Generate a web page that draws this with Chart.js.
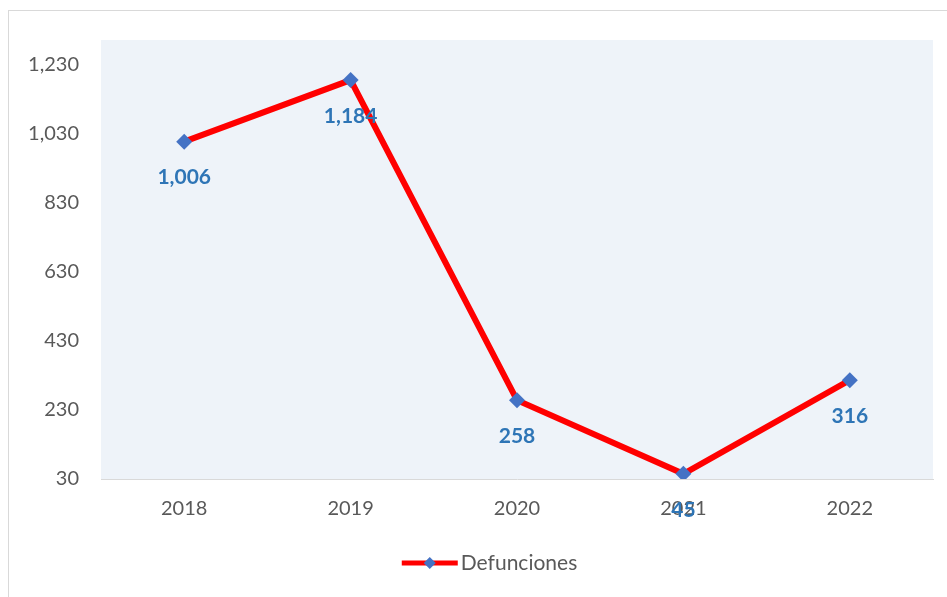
<!DOCTYPE html>
<html>
<head>
<meta charset="utf-8">
<script src="https://cdn.jsdelivr.net/npm/chart.js@4.4.0/dist/chart.umd.min.js"></script>
<style>
  html, body { margin:0; padding:0; background:#fff; }
  #wrap { position:absolute; left:0; top:0; width:947px; height:597px; }
  #frame { position:absolute; left:8px; top:10px; width:960px; height:620px; border:1px solid #d9d9d9; }
</style>
</head>
<body>
<div id="wrap">
  <div id="frame"></div>
  <canvas id="myChart" width="947" height="597"></canvas>
</div>
<script>
// data
var years = ["2018", "2019", "2020", "2021", "2022"];
var defunciones = [1006, 1184, 258, 45, 316];
var yTicks = [30, 230, 430, 630, 830, 1030, 1230];
var seriesName = "Defunciones";

// plot background
var plotBg = {
  id: 'plotBg',
  beforeDraw: function(chart) {
    var a = chart.chartArea, c = chart.ctx;
    c.save();
    c.fillStyle = '#eef3f9';
    c.fillRect(a.left, a.top, a.right - a.left, a.bottom - a.top);
    c.restore();
  }
};

// value labels under the points
var valueLabels = {
  id: 'valueLabels',
  afterDatasetsDraw: function(chart) {
    var c = chart.ctx;
    var meta = chart.getDatasetMeta(0);
    c.save();
    c.font = 'bold 21px Lato';
    c.fillStyle = '#2e75b6';
    c.textAlign = 'center';
    c.textBaseline = 'middle';
    meta.data.forEach(function(pt, i) {
      c.fillText(defunciones[i].toLocaleString('en-US'), pt.x, pt.y + 36);
    });
    c.restore();
  }
};

// legend at the bottom: red line with blue diamond + name
var bottomLegend = {
  id: 'bottomLegend',
  afterDraw: function(chart) {
    var c = chart.ctx;
    var y = chart.chartArea.bottom + 84;
    c.save();
    c.font = '21px Lato';
    var tw = c.measureText(seriesName).width;
    var total = 56 + 3 + tw;
    var x0 = chart.width / 2 + 16 - total / 2;
    c.strokeStyle = '#ff0000'; c.lineWidth = 5;
    c.beginPath(); c.moveTo(x0, y); c.lineTo(x0 + 56, y); c.stroke();
    c.fillStyle = '#4472c4';
    c.beginPath();
    c.moveTo(x0 + 28, y - 6); c.lineTo(x0 + 34, y); c.lineTo(x0 + 28, y + 6); c.lineTo(x0 + 22, y);
    c.closePath(); c.fill();
    c.fillStyle = '#595959';
    c.textAlign = 'left';
    c.textBaseline = 'middle';
    c.fillText(seriesName, x0 + 59, y);
    c.restore();
  }
};

var config = {
  type: 'line',
  data: {
    labels: years,
    datasets: [{
      label: seriesName,
      data: defunciones,
      borderColor: '#ff0000',
      backgroundColor: '#4472c4',
      borderWidth: 6,
      pointStyle: 'rectRot',
      pointRadius: 8,
      pointHoverRadius: 8,
      pointBackgroundColor: '#4472c4',
      pointBorderColor: '#4472c4',
      pointBorderWidth: 0,
      fill: false,
      tension: 0
    }]
  },
  options: {
    responsive: false,
    animation: false,
    layout: { padding: { left: 10, top: 40, right: 14, bottom: 66 } },
    plugins: {
      tooltip: { enabled: false },
      legend: { display: false }
    },
    scales: {
      x: {
        offset: true,
        grid: { display: false },
        border: { display: true, color: '#d9d9d9', width: 1 },
        ticks: { font: { family: 'Lato', size: 20 }, color: '#595959', padding: 10 }
      },
      y: {
        min: 30,
        max: 1300,
        grid: { display: false },
        border: { display: false },
        afterBuildTicks: function(scale) {
          scale.ticks = yTicks.map(function(v) { return { value: v }; });
        },
        afterFit: function(scale) { scale.width = 91; },
        ticks: {
          font: { family: 'Lato', size: 20 },
          color: '#595959',
          padding: 14,
          callback: function(value) { return value.toLocaleString('en-US'); }
        }
      }
    }
  },
  plugins: [plotBg, valueLabels, bottomLegend]
};

var ctx = document.getElementById('myChart').getContext('2d');
new Chart(ctx, config);
</script>
</body>
</html>
